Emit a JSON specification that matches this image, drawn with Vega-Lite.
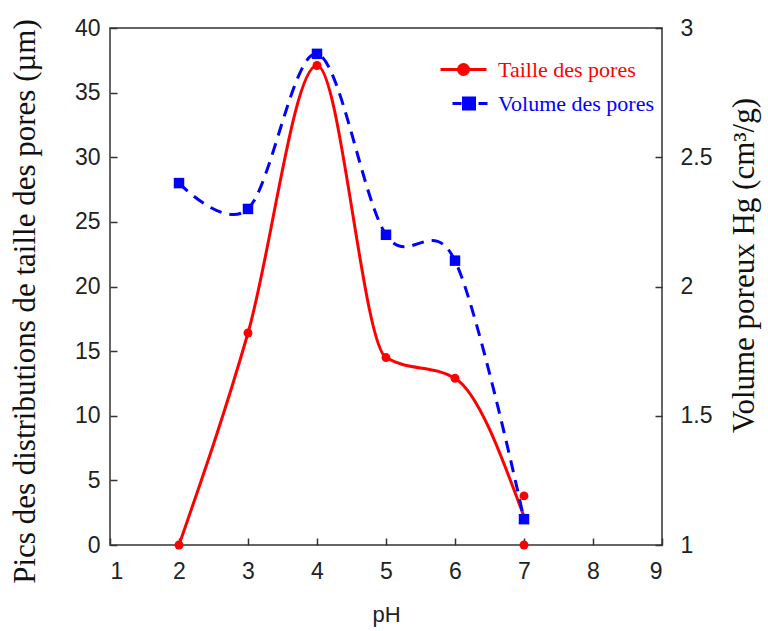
{
  "$schema": "https://vega.github.io/schema/vega-lite/v6.json",
  "width": 552,
  "height": 517,
  "autosize": "none",
  "padding": {"left": 110, "top": 28, "right": 106, "bottom": 86},
  "background": "white",
  "config": {
    "view": {"stroke": "#333333", "strokeWidth": 1.5},
    "font": "Liberation Sans",
    "axis": {"grid": false, "domain": false, "tickColor": "#333333", "tickWidth": 1.5, "tickSize": -7, "labelPadding": 17, "labelFont": "Liberation Sans", "labelFontSize": 23, "labelColor": "#222222"}
  },
  "layer": [
    {
      "layer": [
        {
          "data": {"values": [
            {"pH": 2, "taille": 0, "serie": "Taille des pores"},
            {"pH": 3, "taille": 16.4, "serie": "Taille des pores"},
            {"pH": 4, "taille": 37.1, "serie": "Taille des pores"},
            {"pH": 5, "taille": 14.5, "serie": "Taille des pores"},
            {"pH": 6, "taille": 12.9, "serie": "Taille des pores"},
            {"pH": 7, "taille": 2.2, "serie": "Taille des pores"}
          ]},
          "mark": {"type": "line", "interpolate": "monotone", "strokeWidth": 3},
          "encoding": {
            "x": {"field": "pH", "type": "quantitative", "scale": {"domain": [1, 9], "nice": false}, "axis": {"values": [1,2,3,4,5,6,7,8,9], "format": "~g", "labelPadding": 22, "title": "pH", "titleFont": "Liberation Sans", "titleFontSize": 22, "titleFontWeight": "normal", "titleColor": "#222222", "titlePadding": 21}},
            "y": {"field": "taille", "type": "quantitative", "scale": {"domain": [0, 40], "nice": false}, "axis": {"values": [0,5,10,15,20,25,30,35,40], "title": "Pics des distributions de taille des pores (µm)", "titleFont": "Liberation Serif", "titleFontSize": 31, "titleFontWeight": "normal", "titleColor": "#111111", "titlePadding": 33, "titleY": 273}},
            "color": {
              "field": "serie", "type": "nominal",
              "scale": {"domain": ["Taille des pores", "Volume des pores"], "range": ["#ff0000", "#0000ff"]},
              "legend": {
                "orient": "none", "legendX": 329, "legendY": 30, "title": null,
                "labelFont": "Liberation Serif", "labelFontSize": 22, "symbolSize": 400,
                "labelOffset": 36, "rowPadding": 11, "symbolStrokeWidth": 3,
                "encode": {
                  "symbols": {"update": {
                    "shape": {"signal": "datum.value === 'Taille des pores' ? 'M-1,0H3.6M0.8,0A0.5,0.5 0 1,0 1.8,0A0.5,0.5 0 1,0 0.8,0' : 'M0.2,0H1.1M2.8,0H3.7M1.3,-0.55H2.4V0.55H1.3Z'"},
                    "fill": {"signal": "datum.value === 'Taille des pores' ? '#ff0000' : '#0000ff'"},
                    "stroke": {"signal": "datum.value === 'Taille des pores' ? '#ff0000' : '#0000ff'"},
                    "strokeWidth": {"value": 3},
                    "strokeDash": {"value": []},
                    "opacity": {"value": 1}
                  }},
                  "labels": {"update": {"fill": {"signal": "datum.value === 'Taille des pores' ? '#ff0000' : '#0000ff'"}}}
                }
              }
            }
          }
        },
        {
          "data": {"values": [
            {"pH": 2, "taille": 0},
            {"pH": 3, "taille": 16.4},
            {"pH": 4, "taille": 37.1},
            {"pH": 5, "taille": 14.5},
            {"pH": 6, "taille": 12.9},
            {"pH": 7, "taille": 3.8},
            {"pH": 7, "taille": 0}
          ]},
          "mark": {"type": "point", "shape": "circle", "filled": true, "size": 80, "opacity": 1, "color": "#ff0000"},
          "encoding": {
            "x": {"field": "pH", "type": "quantitative"},
            "y": {"field": "taille", "type": "quantitative"}
          }
        }
      ]
    },
    {
      "data": {"values": [
        {"pH": 2, "volume": 2.4},
        {"pH": 3, "volume": 2.3},
        {"pH": 4, "volume": 2.9},
        {"pH": 5, "volume": 2.2},
        {"pH": 6, "volume": 2.1},
        {"pH": 7, "volume": 1.1}
      ]},
      "encoding": {
        "x": {"field": "pH", "type": "quantitative"},
        "y": {"field": "volume", "type": "quantitative", "scale": {"domain": [1, 3], "nice": false}, "axis": {"orient": "right", "values": [1, 1.5, 2, 2.5, 3], "format": "~g", "labelPadding": 25, "title": "Volume poreux Hg (cm³/g)", "titleAngle": -90, "titleBaseline": "top", "titleFont": "Liberation Serif", "titleFontSize": 31, "titleFontWeight": "normal", "titleColor": "#111111", "titlePadding": 18, "titleY": 237}}
      },
      "layer": [
        {"mark": {"type": "line", "interpolate": "cardinal", "strokeWidth": 3, "strokeDash": [12, 8], "color": "#0000ff"}},
        {"mark": {"type": "square", "filled": true, "size": 110, "opacity": 1, "color": "#0000ff"}}
      ]
    }
  ],
  "resolve": {"scale": {"y": "independent"}}
}
